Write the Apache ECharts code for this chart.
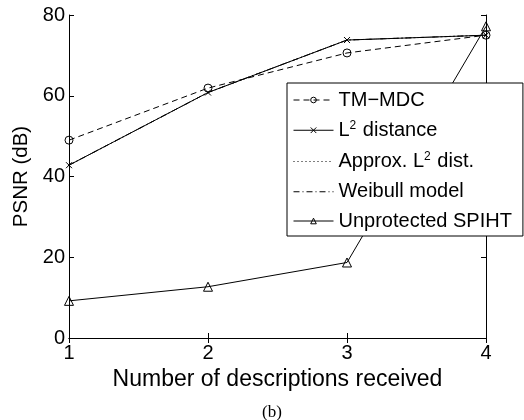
<!DOCTYPE html>
<html><head><meta charset="utf-8">
<script src="https://cdn.jsdelivr.net/npm/echarts@6/dist/echarts.min.js"></script>
<style>html,body{margin:0;padding:0;background:#fff}#c{width:524px;height:420px}</style>
</head><body><div id="c"></div>
<script>
const xValues = [1, 2, 3, 4];
const tmMdc = [49.0, 61.9, 70.6, 75.0];
const l2Distance = [42.8, 60.8, 73.8, 75.0];
const approxL2 = [42.8, 60.8, 73.8, 75.0];
const weibull = [42.8, 60.8, 73.8, 75.0];
const unprotected = [9.2, 12.7, 18.7, 77.2];
const seriesNames = ['TM\u2212MDC', 'L2 distance', 'Approx. L2 dist.', 'Weibull model', 'Unprotected SPIHT'];
const yTicks = [0, 20, 40, 60, 80];

const pairs = arr => xValues.map((x, i) => [x, arr[i]]);
const FONT = '"Liberation Sans", Arial, sans-serif';
const crossPath = 'path://M0,0L10,10M10,0L0,10';
const hollow = { color: 'rgba(0,0,0,0)', borderColor: '#000', borderWidth: 1 };
const invisible = { color: 'rgba(0,0,0,0)', borderColor: 'rgba(0,0,0,0)', borderWidth: 0 };

function mk(name, data, lineType, symbol, size) {
  return {
    name, type: 'line', data: pairs(data), symbol: symbol || 'none', symbolSize: size || 8,
    showSymbol: !!symbol,
    lineStyle: { color: '#000', width: 1, type: lineType },
    itemStyle: hollow,
    emphasis: { disabled: true }, animation: false
  };
}

const chart = echarts.init(document.getElementById('c'), null, { renderer: 'canvas' });
const axisCommon = {
  type: 'value',
  axisLine: { show: true, lineStyle: { color: '#000', width: 1 } },
  axisTick: { show: true, inside: true, length: 5, lineStyle: { color: '#000' } },
  splitLine: { show: false },
};
chart.setOption({
  animation: false,
  backgroundColor: '#fff',
  grid: { left: 69, right: 38, top: 15, bottom: 82 },
  title: { text: '(b)', left: 267, top: 399, textAlign: 'center',
    textStyle: { fontFamily: '"Liberation Serif", "Times New Roman", serif', fontSize: 17, fontWeight: 'normal', color: '#000' } },
  xAxis: [
    Object.assign({}, axisCommon, { min: 1, max: 4, interval: 1, position: 'bottom',
      axisLabel: { color: '#000', fontSize: 20, fontFamily: FONT, margin: 5 },
      name: 'Number of descriptions received', nameLocation: 'middle', nameGap: 27,
      nameTextStyle: { color: '#000', fontSize: 23, fontFamily: FONT } }),
    Object.assign({}, axisCommon, { min: 1, max: 4, interval: 1, position: 'top', axisLabel: { show: false } })
  ],
  yAxis: [
    Object.assign({}, axisCommon, { min: 0, max: 80, interval: 20, position: 'left',
      axisLabel: { color: '#000', fontSize: 20, fontFamily: FONT, margin: 4,
        formatter: v => yTicks.includes(v) ? String(v) : '' },
      name: 'PSNR (dB)', nameLocation: 'middle', nameGap: 35,
      nameTextStyle: { color: '#000', fontSize: 20.5, fontFamily: FONT } }),
    Object.assign({}, axisCommon, { min: 0, max: 80, interval: 20, position: 'right', axisLabel: { show: false } })
  ],
  legend: {
    orient: 'vertical', left: 287, top: 83,
    itemWidth: 40, itemHeight: 7, itemGap: 9.25,
    backgroundColor: '#fff', borderColor: '#000', borderWidth: 1, borderRadius: 0,
    padding: [7, 11, 5, 6],
    selectedMode: false,
    itemStyle: hollow,
    lineStyle: { width: 1, color: '#000' },
    data: [
      { name: seriesNames[0] },
      { name: seriesNames[1] },
      { name: seriesNames[2], itemStyle: invisible },
      { name: seriesNames[3], itemStyle: invisible },
      { name: seriesNames[4] }
    ],
    formatter: n => n.replace('L2', 'L{sup|2}'),
    textStyle: { color: '#000', fontSize: 20, lineHeight: 20, fontFamily: FONT,
      rich: { sup: { fontSize: 12, lineHeight: 2, padding: [0, 1, 10, 0], fontFamily: FONT, color: '#000' } } }
  },
  series: [
    mk(seriesNames[0], tmMdc, [6, 4], 'circle', 8),
    mk(seriesNames[2], approxL2, [1, 3], 'circle', 1),
    mk(seriesNames[3], weibull, [6, 3, 1, 3], 'circle', 1),
    mk(seriesNames[1], l2Distance, 'solid', crossPath, 6),
    mk(seriesNames[4], unprotected, 'solid', 'triangle', 9)
  ]
});
</script></body></html>
